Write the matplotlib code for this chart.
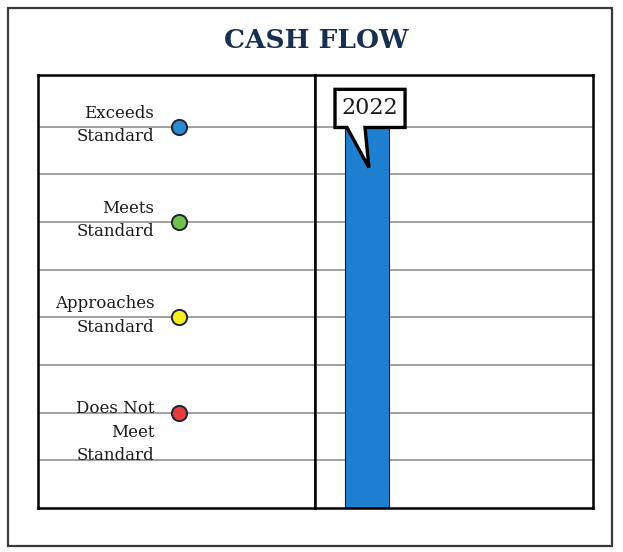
import numpy as np
import matplotlib
matplotlib.use("Agg")
import matplotlib.pyplot as plt
from matplotlib.patches import Rectangle, Polygon

plt.rcParams['font.family'] = ['DejaVu Serif']

# rating levels shown on the left scale
levels = [4, 3, 2, 1]
level_labels = ['Exceeds\nStandard', 'Meets\nStandard',
                'Approaches\nStandard', 'Does Not\nMeet\nStandard']
level_colors = ['#2a8ad6', '#72c04c', '#f4ee22', '#e43c3c']

# yearly result
years = ['2022']
values = [4]

fig = plt.figure(figsize=(6.23, 5.52), dpi=100)

# outer frame
fig.patches.append(Rectangle((0.013, 0.011), 0.969, 0.975, transform=fig.transFigure,
                             fill=False, edgecolor='#3a3a3a', linewidth=1.6))
fig.text(0.507, 0.926, 'CASH FLOW', ha='center', va='center', fontsize=19,
         fontweight='bold', color='#17304f')

ax_l = fig.add_axes([0.061, 0.0797, 0.4446, 0.7844])
ax_r = fig.add_axes([0.5056, 0.0797, 0.4462, 0.7844])

ymax = 4.54
grid_y = np.arange(0.5, 4.5, 0.5)
for ax in (ax_l, ax_r):
    ax.set_xlim(0, 1)
    ax.set_ylim(0, ymax)
    ax.set_xticks([])
    ax.set_yticks([])
    for s in ax.spines.values():
        s.set_linewidth(1.8)
        s.set_color('black')
    for g in grid_y:
        ax.axhline(g, color='#a0a0a0', lw=1.4, zorder=1)

# left pane: level markers and labels
for lv, lab, c in zip(levels, level_labels, level_colors):
    ax_l.scatter([0.51], [lv], s=120, color=c, edgecolor='#222233',
                 linewidth=1.4, zorder=4)
    off = 0.13 if lab.count('\n') == 2 else 0.23
    ax_l.text(0.42, lv + off, lab, ha='right', va='top', fontsize=12,
              color='#1a1a1a', linespacing=1.5, zorder=3)

# right pane: bar with year callout
xc, bw = 0.187, 0.158
for yr, v in zip(years, values):
    ax_r.bar([xc], [v], width=bw, color='#1f7fd0', edgecolor='#1a1a1a',
             linewidth=0.8, zorder=2)
    x0, x1 = xc - 0.115, xc + 0.137
    yb, yt = v - 0.01, v + 0.39
    verts = [(x0, yt), (x1, yt), (x1, yb), (xc - 0.007, yb),
             (xc + 0.007, v - 0.43), (xc - 0.072, yb), (x0, yb)]
    ax_r.add_patch(Polygon(verts, closed=True, facecolor='white',
                           edgecolor='black', linewidth=2.4, zorder=5,
                           joinstyle='miter'))
    ax_r.text((x0 + x1) / 2, (yb + yt) / 2, yr, ha='center', va='center',
              fontsize=16, color='#1a1a1a', zorder=6)

fig.savefig('out.png', dpi=100)
